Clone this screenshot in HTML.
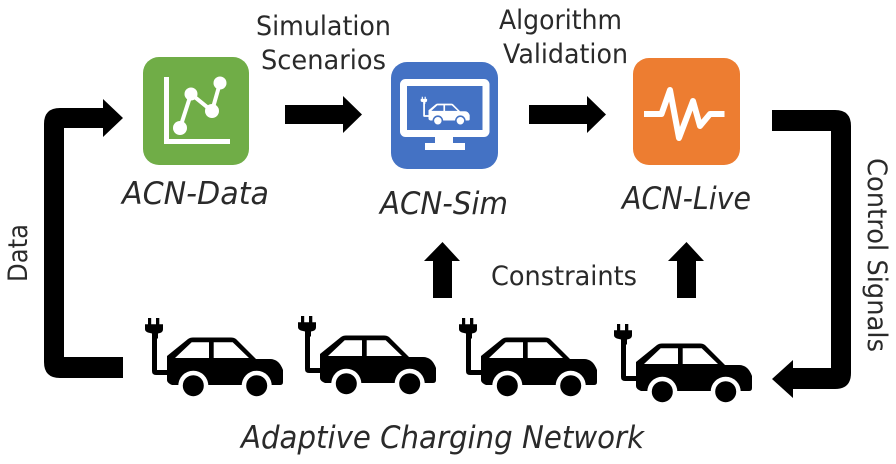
<!DOCTYPE html>
<html>
<head>
<meta charset="utf-8">
<style>
html,body{margin:0;padding:0;background:#fff;width:896px;height:464px;overflow:hidden}
svg{display:block}
text{font-family:"DejaVu Sans","Liberation Sans",sans-serif;fill:#2a2a2a;font-size:27px}
.i{font-style:italic;font-size:31px}
</style>
</head>
<body>
<svg width="896" height="464" viewBox="0 0 896 464" xmlns="http://www.w3.org/2000/svg">
<defs>
<g id="car">
  <path d="M3 0h3.200v6.500H3zM11 0h3.300v6.500H11z"/>
  <path d="M0 6.300h18v5q0 3-3 3.700l-2 .5v5H7v-5l-2-.5q-5-.7-5-3.700z"/>
  <path d="M7 20h5v32h10v5H11q-4 0-4-4z"/>
  <path d="M22 38L43 21Q45 19.500 48 19.500H86Q89 19.500 91 21L111 41H125Q134 41 138 52V64Q138 67 135 67H27Q22 65 22 62Z"/>
  <path d="M30 40L46.700 24.300H64V40ZM68.700 24.300H87.700L104 40H68.700Z" style="fill:var(--win,#fff)"/>
  <circle cx="48.300" cy="67.700" r="15" style="fill:var(--win,#fff)"/>
  <circle cx="111.700" cy="67.700" r="15" style="fill:var(--win,#fff)"/>
  <circle cx="48.300" cy="67.700" r="10.500"/>
  <circle cx="111.700" cy="67.700" r="10.500"/>
</g>
</defs>

<!-- icons -->
<rect x="143" y="57" width="106" height="108" rx="16" fill="#70AD47"/>
<path d="M166.500 77V141.500H230" fill="none" stroke="#fff" stroke-width="5"/>
<path d="M180 128L191 94L212 111L220 83" fill="none" stroke="#fff" stroke-width="4"/>
<circle cx="180" cy="128" r="7" fill="#fff"/>
<circle cx="191" cy="94" r="6.500" fill="#fff"/>
<circle cx="212" cy="111" r="7" fill="#fff"/>
<circle cx="220" cy="83" r="6.500" fill="#fff"/>

<rect x="391" y="62" width="107" height="107" rx="16" fill="#4472C4"/>
<rect x="403.500" y="82.500" width="82.500" height="51" rx="2" fill="none" stroke="#fff" stroke-width="7"/>
<rect x="435" y="137" width="18" height="7" fill="#fff"/>
<rect x="425" y="143" width="40" height="7" fill="#fff"/>
<g transform="translate(420.700 96.700) scale(.355)" fill="#fff" style="--win:#4472C4"><use href="#car"/></g>

<rect x="633" y="58" width="107" height="107" rx="16" fill="#ED7D31"/>
<path d="M644 114H661.500L670 90L679 138L693 101L700 126L710 114H724.500" fill="none" stroke="#fff" stroke-width="6" stroke-linejoin="round"/>

<!-- connectors -->
<path d="M123 378H60Q44 378 44 362V124Q44 108 60 108H103V99L123 118L103 137V128H64V357H123Z" fill="#000"/>
<path d="M772 110H835Q851 110 851 126V373Q851 389 835 389H793V398L772 379L793 360V368H831V131H772Z" fill="#000"/>
<path d="M285 105H343V96L362 114.500L343 133V124H285Z" fill="#000"/>
<path d="M529 105H587V96L606 114.500L587 133V124H529Z" fill="#000"/>
<path d="M433 298V261H424L442.500 242L460 261H452V298Z" fill="#000"/>
<path d="M677 298V261H668L686.500 242L704 261H696V298Z" fill="#000"/>

<!-- cars -->
<use href="#car" transform="translate(145 318)" fill="#000"/>
<use href="#car" transform="translate(298 316)" fill="#000"/>
<use href="#car" transform="translate(459 318)" fill="#000"/>
<use href="#car" transform="translate(614 324)" fill="#000"/>

<!-- labels -->
<text x="256" y="35" textLength="135" lengthAdjust="spacingAndGlyphs">Simulation</text>
<text x="261" y="69" textLength="125" lengthAdjust="spacingAndGlyphs">Scenarios</text>
<text x="499" y="29" textLength="123" lengthAdjust="spacingAndGlyphs">Algorithm</text>
<text x="503" y="63" textLength="125" lengthAdjust="spacingAndGlyphs">Validation</text>
<text class="i" x="122" y="204" textLength="147" lengthAdjust="spacingAndGlyphs">ACN-Data</text>
<text class="i" x="380" y="214" textLength="128" lengthAdjust="spacingAndGlyphs">ACN-Sim</text>
<text class="i" x="622" y="209" textLength="129" lengthAdjust="spacingAndGlyphs">ACN-Live</text>
<text x="491" y="285" textLength="146" lengthAdjust="spacingAndGlyphs">Constraints</text>
<text class="i" x="241" y="448" textLength="403" lengthAdjust="spacingAndGlyphs">Adaptive Charging Network</text>
<text transform="translate(27 282) rotate(-90)" textLength="58" lengthAdjust="spacingAndGlyphs">Data</text>
<text transform="translate(868 158) rotate(90)" textLength="194" lengthAdjust="spacingAndGlyphs">Control Signals</text>
</svg>
</body>
</html>
